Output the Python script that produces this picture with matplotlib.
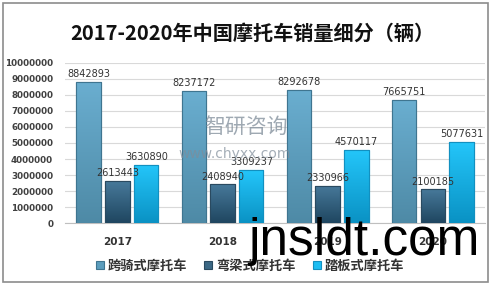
import matplotlib.pyplot as plt
import numpy as np
from matplotlib.patches import Rectangle
from matplotlib.colors import LinearSegmentedColormap

plt.rcParams['font.family'] = ['Noto Sans CJK SC', 'DejaVu Sans']

years = ['2017', '2018', '2019', '2020']
series_names = ['跨骑式摩托车', '弯梁式摩托车', '踏板式摩托车']
kuaqi = [8842893, 8237172, 8292678, 7665751]
wanliang = [2613443, 2408940, 2330966, 2100185]
taban = [3630890, 3309237, 4570117, 5077631]
yticks = [0, 1000000, 2000000, 3000000, 4000000, 5000000,
          6000000, 7000000, 8000000, 9000000, 10000000]

colors = ['#5b9dbd', '#3b6885', '#1cbdf2']
grads = [('#6aaed0', '#4e8aa6'), ('#47799a', '#1f4660'), ('#24c6fa', '#0a92c4')]
edges = ['#3f7590', '#2a4a60', '#1290c0']

fig = plt.figure(figsize=(4.92, 2.85), dpi=100)
ax = fig.add_axes([0.132, 0.2175, 0.854, 0.5615])

x = np.arange(len(years))
w = 0.23
offs = [-0.275, 0.0, 0.275]
grad = np.linspace(0, 1, 100).reshape(-1, 1)
for vals, off, c, g, ec, name in zip([kuaqi, wanliang, taban], offs, colors, grads, edges, series_names):
    bars = ax.bar(x + off, vals, w, color=c, edgecolor=ec, linewidth=0.8, label=name, zorder=3)
    cmap = LinearSegmentedColormap.from_list('g', [g[0], g[1]])
    for b, v in zip(bars, vals):
        x0 = b.get_x()
        im = ax.imshow(grad, extent=[x0, x0 + w, 0, v], aspect='auto', cmap=cmap,
                       zorder=3.1, interpolation='bicubic')
        im.set_clip_path(b)
        ax.bar(x0 + w / 2, v, w, fill=False, edgecolor=ec, linewidth=0.8, zorder=3.2)
        ax.text(x0 + w / 2, v + 180000, str(v),
                ha='center', va='bottom', fontsize=7, color='#333333',
                family='DejaVu Sans', zorder=4)

ax.set_xlim(-0.5, 3.5)
ax.set_ylim(0, 10000000)
ax.set_yticks(yticks)
ax.set_yticklabels([str(t) for t in yticks], fontsize=6.3, fontweight='bold',
                   color='#404040', family='DejaVu Sans')
ax.set_xticks(x)
ax.set_xticklabels(years, fontsize=7.5, fontweight='bold', color='#333333',
                   family='DejaVu Sans')
ax.tick_params(axis='both', length=0)
ax.tick_params(axis='x', pad=10)
ax.tick_params(axis='y', pad=8.5)
ax.grid(axis='y', color='#d9d9d9', linewidth=0.8, zorder=0)
for s in ['top', 'right', 'left']:
    ax.spines[s].set_visible(False)
ax.spines['bottom'].set_color('#bfbfbf')

fig.text(0.512, 0.885, '2017-2020年中国摩托车销量细分（辆）', ha='center', va='center',
         fontsize=14.5, fontweight='bold', color='#111111')

ax.legend(loc='upper left', bbox_to_anchor=(0.045, -0.15), ncol=3, frameon=False,
          prop={'size': 9.5, 'weight': 'bold'}, handlelength=0.6, handleheight=0.6,
          handletextpad=0.3, columnspacing=1.3, labelcolor='#333333')

# watermarks
fig.text(0.415, 0.555, '智研咨询', fontsize=15, color='#7f8c99', alpha=0.75,
         ha='left', va='center', zorder=5)
fig.text(0.362, 0.46, 'www.chyxx.com', fontsize=10, color='#7f8c99', alpha=0.7,
         ha='left', va='center', family='DejaVu Sans', zorder=5)
fig.text(0.504, 0.105, 'jnsldt.com', fontsize=37, color='black',
         ha='left', va='baseline', family='Liberation Sans', zorder=6)

fig.patches.append(Rectangle((0.007, 0.01), 0.984, 0.98, transform=fig.transFigure,
                             fill=False, edgecolor='#8c8c8c', linewidth=1.2))

fig.savefig('out.png', dpi=100)
